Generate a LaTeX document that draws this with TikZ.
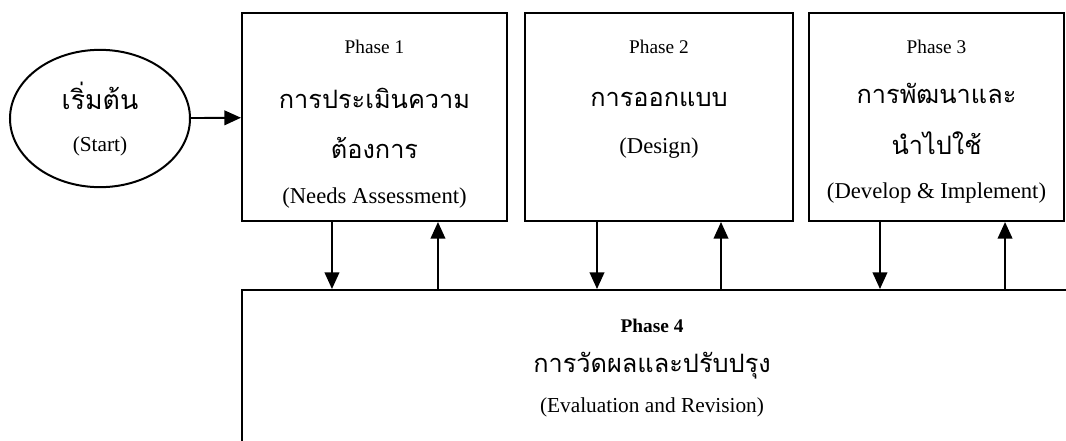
\documentclass[tikz,border=0pt]{standalone}
\usepackage{fontspec}
\setmainfont{Liberation Serif}
\newfontfamily\thaifont[Script=Thai]{Loma}
\usetikzlibrary{shapes.geometric}
\usetikzlibrary{arrows.meta}

\tikzset{
  phasebox/.style={draw, line width=1.5pt, rectangle, inner sep=0pt},
  startnode/.style={draw, line width=1.5pt, ellipse, inner sep=0pt,
    minimum width=135pt, minimum height=103pt},
  phasetitle/.style={font=\fontsize{14.5}{16}\selectfont},
  thaitext/.style={font=\thaifont\fontsize{19}{22}\selectfont},
  engtext/.style={font=\fontsize{17}{20}\selectfont},
  flow/.style={-{Triangle[length=12.5pt,width=11pt]}, line width=1.4pt},
}

\begin{document}
\begin{tikzpicture}[x=0.75pt, y=-0.75pt]
  \clip (0,0) rectangle (1066,440);

  % start
  \node[startnode] (start) at (100,118.5) {};
  \node[thaitext, font=\thaifont\fontsize{20}{22}\selectfont] (startth) at (100,96) {เริ่มต้น};
  \node[engtext, font=\fontsize{16}{18}\selectfont] (starten) at (100,146) {(Start)};

  % phases 1-3
  \node[phasebox, minimum width=198.75pt, minimum height=156pt] (box1) at (374.5,117) {};
  \node[phasebox, minimum width=201pt, minimum height=156pt] (box2) at (659,117) {};
  \node[phasebox, minimum width=191.25pt, minimum height=156pt] (box3) at (936.5,117) {};

  \node[phasetitle] (p1) at (374.5,47) {Phase 1};
  \node[thaitext] (p1a) at (374.5,98) {การประเมินความ};
  \node[thaitext] (p1b) at (374.5,148) {ต้องการ};
  \node[engtext] (p1c) at (374.5,198) {(Needs Assessment)};

  \node[phasetitle] (p2) at (659,47) {Phase 2};
  \node[thaitext] (p2a) at (659,99) {การออกแบบ};
  \node[engtext] (p2b) at (659,148) {(Design)};

  \node[phasetitle] (p3) at (936.5,47) {Phase 3};
  \node[thaitext] (p3a) at (936.5,93) {การพัฒนาและ};
  \node[thaitext] (p3b) at (936.5,143) {นำไปใช้};
  \node[engtext] (p3c) at (936.5,193) {(Develop \& Implement)};

  % phase 4
  \node[phasebox, minimum width=643.5pt, minimum height=135pt] (box4) at (671,380) {};
  \node[phasetitle, font=\bfseries\fontsize{14.5}{16}\selectfont] (p4) at (652,326) {Phase 4};
  \node[thaitext] (p4a) at (652,366) {การวัดผลและปรับปรุง};
  \node[engtext, font=\fontsize{16}{18}\selectfont] (p4b) at (652,407) {(Evaluation and Revision)};

  \path[flow]
    (start) edge (box1)
    ([xshift=-31.9pt]box1.south) edge ([xshift=-31.9pt]box1.south |- box4.north)
    ([xshift=47.6pt]box1.south |- box4.north) edge ([xshift=47.6pt]box1.south)
    ([xshift=-46.5pt]box2.south) edge ([xshift=-46.5pt]box2.south |- box4.north)
    ([xshift=46.5pt]box2.south |- box4.north) edge ([xshift=46.5pt]box2.south)
    ([xshift=-42.4pt]box3.south) edge ([xshift=-42.4pt]box3.south |- box4.north)
    ([xshift=51.4pt]box3.south |- box4.north) edge ([xshift=51.4pt]box3.south);
\end{tikzpicture}
\end{document}
